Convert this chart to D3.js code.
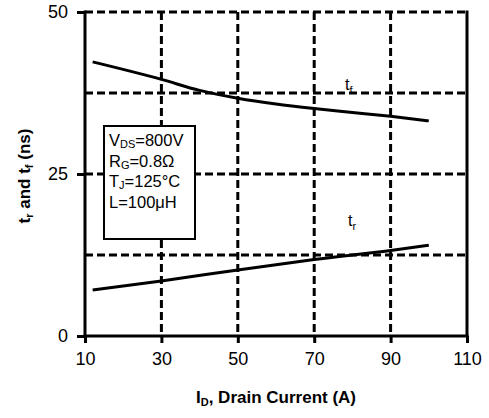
<!DOCTYPE html>
<html><head><meta charset="utf-8">
<script src="https://cdn.jsdelivr.net/npm/d3@7/dist/d3.min.js"></script>
<style>body{margin:0;background:#fff}svg{display:block;font-family:Arial,"Liberation Sans",sans-serif}</style>
</head><body><svg id="c" width="489" height="418"></svg>
<script>
const xTicks = [10, 30, 50, 70, 90, 110];
const yTicks = [0, 25, 50];
const xGrid = [30, 50, 70, 90];
const yGrid = [12.5, 25, 37.5, 50];
const tfX = [12, 30, 40, 50, 60, 70, 80, 90, 100];
const tfY = [42.3, 39.6, 37.9, 36.7, 35.8, 35.1, 34.5, 33.9, 33.2];
const trX = [12, 30, 50, 70, 90, 100];
const trY = [7.1, 8.5, 10.2, 11.8, 13.2, 14.0];
const legendLines = [["V","DS","=800V"],["R","G","=0.8Ω"],["T","J","=125°C"],["L","","=100μH"]];

const svg = d3.select("#c");
const L = 85, R = 467, T = 12, B = 336;
const x = d3.scaleLinear().domain([10, 110]).range([L, R]);
const y = d3.scaleLinear().domain([0, 50]).range([B, T]);

// grid
const g = svg.append("g").attr("stroke", "#000").attr("stroke-width", 3).attr("stroke-dasharray", "8,4");
g.selectAll(".vx").data(xGrid).join("line").attr("x1", d => x(d)).attr("x2", d => x(d)).attr("y1", T).attr("y2", B);
g.selectAll(".hy").data(yGrid).join("line").attr("y1", d => y(d)).attr("y2", d => y(d)).attr("x1", L).attr("x2", R);

// right border solid
svg.append("line").attr("x1", R).attr("x2", R).attr("y1", T - 1.5).attr("y2", B).attr("stroke", "#000").attr("stroke-width", 3);

// axes
const xa = svg.append("g").attr("transform", `translate(0,${B})`)
  .call(d3.axisBottom(x).tickValues(xTicks).tickSize(7).tickPadding(9).tickSizeOuter(0));
const ya = svg.append("g").attr("transform", `translate(${L},0)`)
  .call(d3.axisLeft(y).tickValues(yTicks).tickSize(8).tickPadding(9).tickSizeOuter(0));
[xa, ya].forEach(a => {
  a.select(".domain").attr("stroke-width", 3);
  a.selectAll(".tick line").attr("stroke-width", 3);
  a.selectAll(".tick text").attr("font-size", 18).attr("font-family", "Arial,'Liberation Sans',sans-serif").attr("fill", "#000");
});
xa.select(".domain").attr("d", `M${L - 1.5},0H${R + 1.5}`);
ya.select(".domain").attr("d", `M0,${T - 1.5}V${B}`);

// curves
const line = d3.line().x(d => x(d[0])).y(d => y(d[1])).curve(d3.curveMonotoneX);
svg.append("path").datum(tfX.map((v, i) => [v, tfY[i]])).attr("d", line)
  .attr("fill", "none").attr("stroke", "#000").attr("stroke-width", 3);
svg.append("path").datum(trX.map((v, i) => [v, trY[i]])).attr("d", line)
  .attr("fill", "none").attr("stroke", "#000").attr("stroke-width", 3);

// curve labels
function sublabel(px, py, main, sub, fs) {
  const t = svg.append("text").attr("x", px).attr("y", py).attr("font-size", fs).attr("fill", "#000");
  t.append("tspan").text(main);
  t.append("tspan").attr("font-size", fs * 0.68).attr("dy", fs * 0.22).text(sub);
  return t;
}
sublabel(345, 90, "t", "f", 16);
sublabel(348, 226, "t", "r", 16);

// legend box
svg.append("rect").attr("x", 104).attr("y", 126).attr("width", 91).attr("height", 113)
  .attr("fill", "#fff").attr("stroke", "#000").attr("stroke-width", 2);
legendLines.forEach((l, i) => {
  const t = svg.append("text").attr("x", 109).attr("y", 146 + i * 20.7).attr("font-size", 16.5);
  t.append("tspan").text(l[0]);
  if (l[1]) t.append("tspan").attr("font-size", 11).attr("dy", 2).text(l[1]);
  t.append("tspan").attr("dy", l[1] ? -2 : 0).text(l[2]);
});

// axis titles
const xt = svg.append("text").attr("x", (L + R) / 2).attr("y", 403).attr("text-anchor", "middle")
  .attr("font-size", 17).attr("font-weight", "bold");
xt.append("tspan").text("I");
xt.append("tspan").attr("font-size", 11).attr("dy", 3).text("D");
xt.append("tspan").attr("dy", -3).text(", Drain Current (A)");

const yt = svg.append("text").attr("transform", `translate(30,${(T + B) / 2 + 2}) rotate(-90)`)
  .attr("text-anchor", "middle").attr("font-size", 17).attr("font-weight", "bold");
yt.append("tspan").text("t");
yt.append("tspan").attr("font-size", 11).attr("dy", 3).text("r");
yt.append("tspan").attr("dy", -3).text(" and t");
yt.append("tspan").attr("font-size", 11).attr("dy", 3).text("f");
yt.append("tspan").attr("dy", -3).text(" (ns)");
</script></body></html>
